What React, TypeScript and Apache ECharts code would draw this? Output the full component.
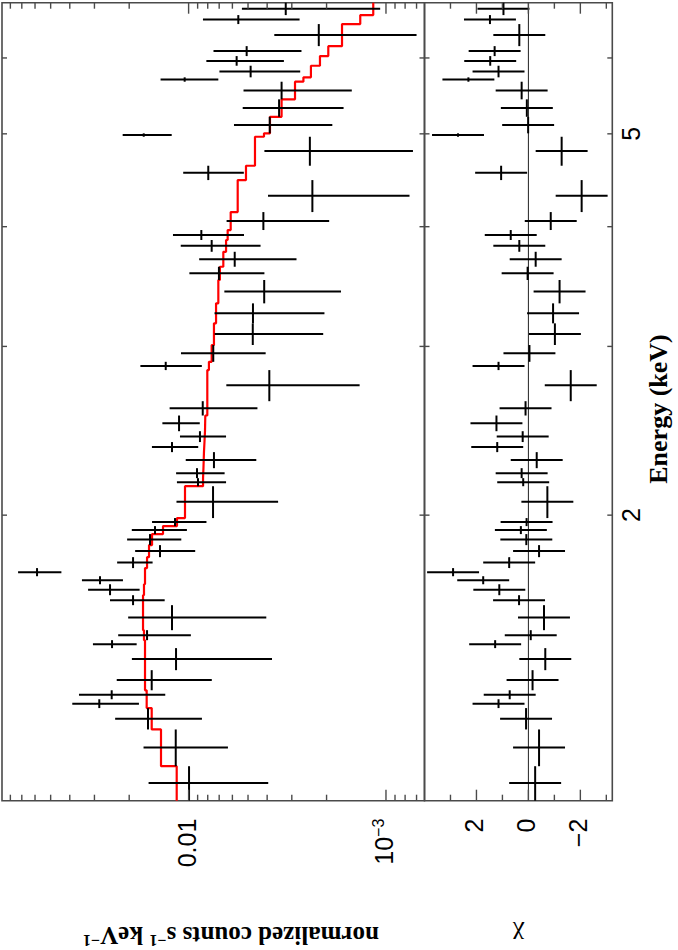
import React, { useEffect, useRef } from "react";
import * as echarts from "echarts";

// ---- axis ranges ----
const ENERGY_MIN = 1.007;
const ENERGY_MAX = 6.852;
const COUNTS_MIN = 6.38e-4;
const COUNTS_MAX = 0.0882;
const CHI_MIN = -3.23;
const CHI_MAX = 4;

// ---- spectral bins (keV), low to high energy ----
const BIN_EDGES = [
  1.007, 1.094, 1.195, 1.258, 1.285, 1.313, 1.378, 1.453, 1.481, 1.517, 1.611,
  1.65, 1.694, 1.727, 1.761, 1.808, 1.861, 1.911, 1.948, 1.986, 2.144, 2.186,
  2.239, 2.327, 2.384, 2.447, 2.541, 2.63, 2.834, 2.891, 3.01, 3.171, 3.327,
  3.519, 3.633, 3.766, 3.874, 3.968, 4.143, 4.474, 4.631, 4.965, 5.006, 5.209,
  5.432, 5.667, 5.727, 5.889, 6.027, 6.173, 6.509, 6.651, 6.852,
];
const COUNTS = [
  0.00995, 0.01162, 0.01606, 0.02835, 0.02453, 0.01538, 0.01158, 0.02443,
  0.01624, 0.01214, 0.01912, 0.02501, 0.02811, 0.05861, 0.01912, 0.01396,
  0.01569, 0.0148, 0.01172, 0.00752, 0.00896, 0.00907, 0.00744, 0.01214,
  0.00876, 0.01118, 0.00848, 0.0039, 0.01306, 0.0075, 0.00473, 0.00472,
  0.00414, 0.00702, 0.00584, 0.00764, 0.00862, 0.00418, 0.00236, 0.00795,
  0.00243, 0.01688, 0.00388, 0.00348, 0.00338, 0.01047, 0.00485, 0.00571,
  0.00508, 0.00219, 0.0056, 0.00322,
];
const COUNTS_ERR = [
  0.006, 0.0053, 0.0075, 0.0105, 0.0114, 0.00775, 0.0078, 0.0061, 0.0065,
  0.0081, 0.0059, 0.0073, 0.0066, 0.0145, 0.0039, 0.0047, 0.0048, 0.0046,
  0.0036, 0.004, 0.0025, 0.0025, 0.0029, 0.0032, 0.0023, 0.0024, 0.004,
  0.00254, 0.00449, 0.00343, 0.00265, 0.00267, 0.00245, 0.00289, 0.003,
  0.00332, 0.00338, 0.00224, 0.0016, 0.0027, 0.0017, 0.0047, 0.00201, 0.00184,
  0.00189, 0.0034, 0.00213, 0.00242, 0.0024, 0.00149, 0.00286, 0.00215,
];
const MODEL = [
  0.01149, 0.0138, 0.01538, 0.01631, 0.01631, 0.01663, 0.01663, 0.01663,
  0.01683, 0.01702, 0.01702, 0.01683, 0.01663, 0.01663, 0.01624, 0.01587,
  0.01532, 0.01348, 0.01145, 0.01043, 0.00845, 0.00841, 0.00836, 0.00831,
  0.00826, 0.00823, 0.00804, 0.00804, 0.00789, 0.00764, 0.00744, 0.00726,
  0.00707, 0.00694, 0.00667, 0.00646, 0.00634, 0.00612, 0.00564, 0.00512,
  0.00461, 0.00415, 0.00387, 0.00338, 0.00289, 0.00262, 0.0024, 0.00216,
  0.00196, 0.00167, 0.00135, 0.00116,
];
const CHI = [
  -0.26, -0.41, 0.09, 1.15, 0.72, -0.16, -0.65, 1.28, -0.09, -0.6, 0.36, 1.12,
  1.74, 2.9, 0.74, -0.41, 0.08, 0.29, 0.07, -0.73, 0.2, 0.26, -0.32, 1.2, 0.22,
  1.23, 0.11, -1.63, 1.15, -0.04, -1.02, -0.95, -1.2, 0.03, -0.28, 0.35, 0.68,
  -0.86, -2.05, 1.05, -1.28, 2.71, 0.01, 0.06, 0.26, 2.31, 1.15, 1.47, 1.3,
  0.35, 1.48, 0.96,
];

// ---- ticks & labels ----
const ENERGY_TICKS = [2, 3, 4, 5, 6];
const ENERGY_LABELS = [2, 5];
const COUNT_MAJOR_TICKS = [0.001, 0.01];
const COUNT_MINOR_TICKS = [
  0.0007, 0.0008, 0.0009, 0.002, 0.003, 0.004, 0.005, 0.006, 0.007, 0.008,
  0.009, 0.02, 0.03, 0.04, 0.05, 0.06, 0.07, 0.08,
];
const COUNT_LABEL_VALUES = [0.01, 0.001];
const COUNT_LABEL_TEXTS = ["{m|0.01}", "{m|10}{s|−3}"];
const CHI_MAJOR_TICKS = [-2, 0, 2];
const CHI_MINOR_TICKS = [-3, -1, 1, 3];
const CHI_LABEL_VALUES = [2, 0, -2];
const CHI_LABEL_TEXTS = ["2", "0", "−2"];

const SANS = "'Liberation Sans', Arial, Helvetica, sans-serif";
const SERIF = "'Liberation Serif', 'Times New Roman', Times, serif";
const FRAME = "#4a4a4a";
const TICK_STYLE = { stroke: FRAME, lineWidth: 1.4 };
const CROSS_STYLE = { stroke: "#000", lineWidth: 2 };

const LABEL_RICH = {
  m: { fontSize: 25, lineHeight: 26, fontFamily: SANS, fill: "#000" },
  s: {
    fontSize: 16,
    lineHeight: 16,
    fontFamily: SANS,
    fill: "#000",
    verticalAlign: "top",
  },
};

function energyTickSeries(grid: number, refY: number) {
  return {
    type: "custom",
    xAxisIndex: grid,
    yAxisIndex: grid,
    silent: true,
    z: 6,
    data: ENERGY_TICKS.map((e) => [e, refY]),
    encode: { x: 0, y: 1 },
    renderItem: (params: any, api: any) => {
      const cs = params.coordSys;
      const x = api.coord([api.value(0), api.value(1)])[0];
      const len = 5;
      return {
        type: "group",
        children: [
          { type: "line", shape: { x1: x, y1: cs.y, x2: x, y2: cs.y + len }, style: TICK_STYLE },
          {
            type: "line",
            shape: { x1: x, y1: cs.y + cs.height - len, x2: x, y2: cs.y + cs.height },
            style: TICK_STYLE,
          },
        ],
      };
    },
  };
}

function valueTickSeries(grid: number, major: number[], minor: number[]) {
  return {
    type: "custom",
    xAxisIndex: grid,
    yAxisIndex: grid,
    silent: true,
    z: 6,
    data: [...major.map((v) => [2, v, 1]), ...minor.map((v) => [2, v, 0])],
    encode: { x: 0, y: 1 },
    renderItem: (params: any, api: any) => {
      const cs = params.coordSys;
      const y = api.coord([api.value(0), api.value(1)])[1];
      const len = api.value(2) ? 11 : 6;
      return {
        type: "group",
        children: [
          { type: "line", shape: { x1: cs.x, y1: y, x2: cs.x + len, y2: y }, style: TICK_STYLE },
          {
            type: "line",
            shape: { x1: cs.x + cs.width - len, y1: y, x2: cs.x + cs.width, y2: y },
            style: TICK_STYLE,
          },
        ],
      };
    },
  };
}

function valueLabelSeries(grid: number, values: number[], texts: string[]) {
  return {
    type: "custom",
    xAxisIndex: grid,
    yAxisIndex: grid,
    silent: true,
    clip: false,
    z: 6,
    data: values.map((v, i) => [2, v, i]),
    encode: { x: 0, y: 1 },
    renderItem: (params: any, api: any) => {
      const cs = params.coordSys;
      const y = api.coord([api.value(0), api.value(1)])[1];
      const t = texts[api.value(2)];
      return {
        type: "text",
        x: cs.x - 18,
        y: y - 2,
        style: {
          text: t.indexOf("{") >= 0 ? t : `{m|${t}}`,
          rich: LABEL_RICH,
          align: "right",
          verticalAlign: "middle",
        },
      };
    },
  };
}

const option: any = {
  animation: false,
  backgroundColor: "#fff",
  grid: [
    {
      left: 149.3,
      top: 2,
      width: 798,
      height: 422.5,
      show: true,
      borderColor: FRAME,
      borderWidth: 1.6,
      backgroundColor: "transparent",
    },
    {
      left: 149.3,
      top: 424.5,
      width: 798,
      height: 187.8,
      show: true,
      borderColor: FRAME,
      borderWidth: 1.6,
      backgroundColor: "transparent",
    },
  ],
  xAxis: [
    { type: "log", gridIndex: 0, min: ENERGY_MIN, max: ENERGY_MAX, show: false },
    { type: "log", gridIndex: 1, min: ENERGY_MIN, max: ENERGY_MAX, show: false },
  ],
  yAxis: [
    { type: "log", gridIndex: 0, min: COUNTS_MIN, max: COUNTS_MAX, show: false },
    { type: "value", gridIndex: 1, min: CHI_MIN, max: CHI_MAX, show: false },
  ],
  graphic: [
    {
      type: "text",
      x: 15,
      y: 231,
      rotation: Math.PI / 2,
      style: {
        text: "{t|normalized counts s}{s|−1}{t| keV}{s|−1}",
        align: "center",
        verticalAlign: "middle",
        rich: {
          t: { fontSize: 25, lineHeight: 26, fontWeight: "bold", fontFamily: SERIF, fill: "#000" },
          s: {
            fontSize: 16,
            lineHeight: 16,
            fontWeight: "bold",
            fontFamily: SERIF,
            fill: "#000",
            verticalAlign: "top",
          },
        },
      },
    },
    {
      type: "text",
      x: 15,
      y: 518.4,
      rotation: Math.PI / 2,
      style: {
        text: "χ",
        align: "center",
        verticalAlign: "middle",
        fontSize: 26,
        fontFamily: SERIF,
        fill: "#000",
      },
    },
    {
      type: "text",
      x: 541,
      y: 658,
      style: {
        text: "Energy (keV)",
        align: "center",
        verticalAlign: "middle",
        fontSize: 26,
        fontWeight: "bold",
        fontFamily: SERIF,
        fill: "#000",
      },
    },
  ],
  series: [
    {
      type: "line",
      name: "zero",
      xAxisIndex: 1,
      yAxisIndex: 1,
      data: [
        [ENERGY_MIN, 0],
        [ENERGY_MAX, 0],
      ],
      symbol: "none",
      silent: true,
      z: 2,
      lineStyle: { color: "#222", width: 1 },
    },
    {
      type: "line",
      name: "model",
      xAxisIndex: 0,
      yAxisIndex: 0,
      data: MODEL.flatMap((m, i) => [
        [BIN_EDGES[i], m],
        [BIN_EDGES[i + 1], m],
      ]),
      symbol: "none",
      silent: true,
      z: 3,
      lineStyle: { color: "#ff0000", width: 2.2 },
    },
    {
      type: "custom",
      name: "data",
      xAxisIndex: 0,
      yAxisIndex: 0,
      silent: true,
      z: 4,
      data: COUNTS.map((c, i) => [BIN_EDGES[i], BIN_EDGES[i + 1], c, COUNTS_ERR[i]]),
      encode: { x: [0, 1], y: [2] },
      renderItem: (params: any, api: any) => {
        const lo = api.value(0);
        const hi = api.value(1);
        const c = api.value(2);
        const e = api.value(3);
        const mid = (lo + hi) / 2;
        const a = api.coord([lo, c]);
        const b = api.coord([hi, c]);
        const u = api.coord([mid, c + e]);
        const d = api.coord([mid, c - e]);
        return {
          type: "group",
          children: [
            { type: "line", shape: { x1: a[0], y1: a[1], x2: b[0], y2: b[1] }, style: CROSS_STYLE },
            { type: "line", shape: { x1: u[0], y1: u[1], x2: d[0], y2: d[1] }, style: CROSS_STYLE },
          ],
        };
      },
    },
    {
      type: "custom",
      name: "residuals",
      xAxisIndex: 1,
      yAxisIndex: 1,
      silent: true,
      z: 4,
      data: CHI.map((r, i) => [BIN_EDGES[i], BIN_EDGES[i + 1], r]),
      encode: { x: [0, 1], y: [2] },
      renderItem: (params: any, api: any) => {
        const lo = api.value(0);
        const hi = api.value(1);
        const r = api.value(2);
        const mid = (lo + hi) / 2;
        const a = api.coord([lo, r]);
        const b = api.coord([hi, r]);
        const u = api.coord([mid, r + 1]);
        const d = api.coord([mid, r - 1]);
        return {
          type: "group",
          children: [
            { type: "line", shape: { x1: a[0], y1: a[1], x2: b[0], y2: b[1] }, style: CROSS_STYLE },
            { type: "line", shape: { x1: u[0], y1: u[1], x2: d[0], y2: d[1] }, style: CROSS_STYLE },
          ],
        };
      },
    },
    energyTickSeries(0, 0.01),
    energyTickSeries(1, 0),
    valueTickSeries(0, COUNT_MAJOR_TICKS, COUNT_MINOR_TICKS),
    valueTickSeries(1, CHI_MAJOR_TICKS, CHI_MINOR_TICKS),
    valueLabelSeries(0, COUNT_LABEL_VALUES, COUNT_LABEL_TEXTS),
    valueLabelSeries(1, CHI_LABEL_VALUES, CHI_LABEL_TEXTS),
    {
      type: "custom",
      name: "energyLabels",
      xAxisIndex: 1,
      yAxisIndex: 1,
      silent: true,
      clip: false,
      z: 6,
      data: ENERGY_LABELS.map((e) => [e, 0]),
      encode: { x: 0, y: 1 },
      renderItem: (params: any, api: any) => {
        const cs = params.coordSys;
        const x = api.coord([api.value(0), api.value(1)])[0];
        return {
          type: "text",
          x,
          y: cs.y + cs.height + 19,
          style: {
            text: String(api.value(0)),
            fontSize: 25,
            fontFamily: SANS,
            fill: "#000",
            align: "center",
            verticalAlign: "middle",
          },
        };
      },
    },
  ],
};

export default function App() {
  const ref = useRef<HTMLDivElement>(null);
  useEffect(() => {
    if (!ref.current) return;
    const chart = echarts.init(ref.current, undefined, { renderer: "svg" });
    chart.setOption(option);
    return () => chart.dispose();
  }, []);
  return (
    <div
      style={{
        position: "fixed",
        left: 0,
        top: 0,
        width: 678,
        height: 950,
        overflow: "hidden",
        background: "#fff",
      }}
    >
      <div
        ref={ref}
        style={{
          position: "absolute",
          left: 0,
          top: 0,
          width: 950,
          height: 678,
          transformOrigin: "0 0",
          transform: "translateY(950px) rotate(-90deg)",
        }}
      />
    </div>
  );
}
